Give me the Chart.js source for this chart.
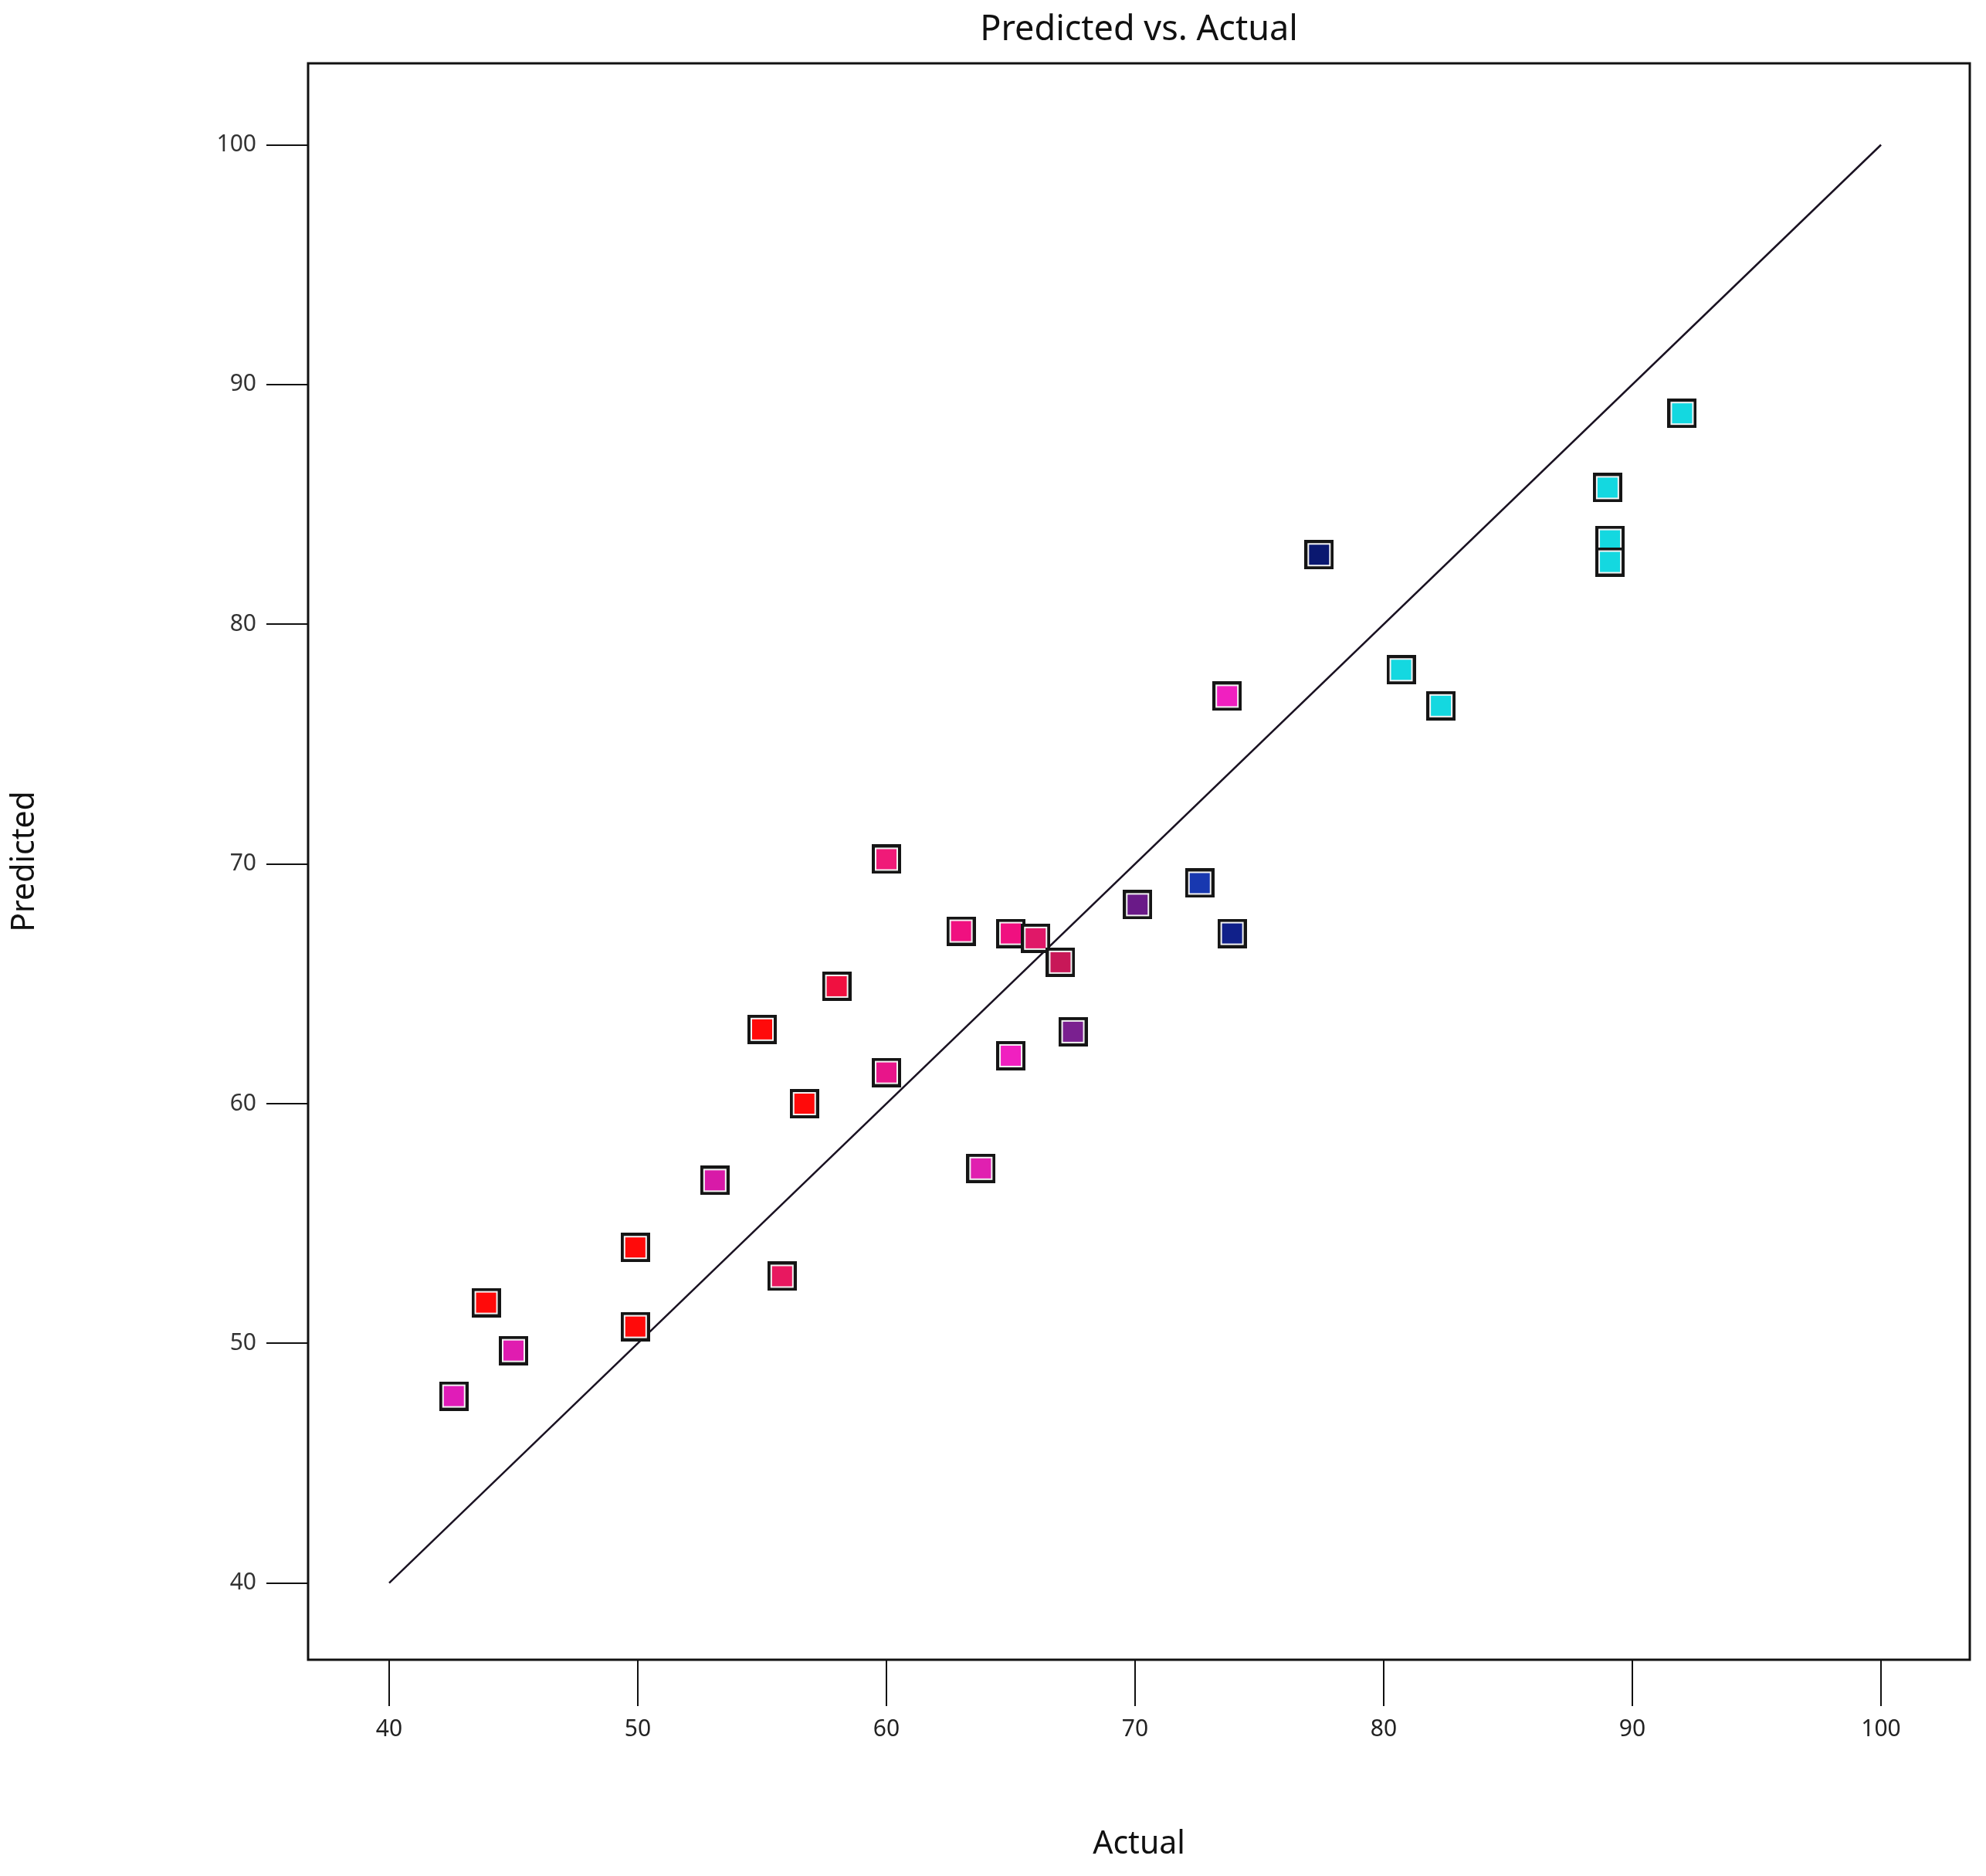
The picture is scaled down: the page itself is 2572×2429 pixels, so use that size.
<!DOCTYPE html>
<html>
<head>
<meta charset="utf-8">
<script src="https://cdn.jsdelivr.net/npm/chart.js@4.4.1/dist/chart.umd.min.js"></script>
<style>
  html, body { margin: 0; padding: 0; background: #fff; }
  #wrap { width: 2572px; height: 2429px; position: relative; }
</style>
</head>
<body>
<div id="wrap"><canvas id="chart"></canvas></div>
<script>
// actual vs predicted values
const actualValues = [42.6, 43.9, 45.0, 49.9, 49.9, 53.1, 55.0, 55.8, 56.7, 58.0,
  60.0, 60.0, 63.0, 63.8, 65.0, 65.0, 66.0, 67.0, 67.5, 70.1,
  72.6, 73.9, 73.7, 77.4, 80.7, 82.3, 89.0, 89.1, 89.1, 92.0];
const predictedValues = [47.8, 51.7, 49.7, 54.0, 50.7, 56.8, 63.1, 52.8, 60.0, 64.9,
  70.2, 61.3, 67.2, 57.3, 67.1, 62.0, 66.9, 65.9, 63.0, 68.3,
  69.2, 67.1, 77.0, 82.9, 78.1, 76.6, 85.7, 83.5, 82.6, 88.8];
const pointColors = ["#e01cb8", "#ff0a0a", "#e01cb0", "#ff0a0a", "#ff0a0a", "#d81aa8", "#ff0a0a", "#e81860", "#ff0a0a", "#f01040",
  "#f01a78", "#e8158a", "#f01080", "#e020b0", "#f01080", "#f020c0", "#e01868", "#c81858", "#7a2090", "#6a1a88",
  "#1838b0", "#10208a", "#f020c0", "#0a1870", "#14d8e0", "#14d8e0", "#14d8e0", "#14d8e0", "#14d8e0", "#14d8e0"];
const diagonalX = [40, 100];
const diagonalY = [40, 100];
const xTickValues = [40, 50, 60, 70, 80, 90, 100];
const yTickValues = [40, 50, 60, 70, 80, 90, 100];

const points = actualValues.map((x, i) => ({ x: x, y: predictedValues[i] }));
const diagonal = diagonalX.map((x, i) => ({ x: x, y: diagonalY[i] }));

// square marker: black edge, thin light ring, coloured fill
function marker(color) {
  const size = 38;
  const c = document.createElement("canvas");
  c.width = size; c.height = size;
  const g = c.getContext("2d");
  g.fillStyle = "#151515";
  g.fillRect(0, 0, size, size);
  g.fillStyle = "#f4f4f4";
  g.fillRect(4, 4, size - 8, size - 8);
  g.fillStyle = color;
  g.fillRect(6, 6, size - 12, size - 12);
  return c;
}
const markers = pointColors.map(marker);

const frame = {
  id: "frame",
  afterDatasetsDraw(chart) {
    const { ctx, chartArea: a } = chart;
    ctx.save();
    ctx.strokeStyle = "#111";
    ctx.lineWidth = 3;
    ctx.strokeRect(a.left, a.top, a.right - a.left, a.bottom - a.top);
    ctx.restore();
  }
};

const font = "'Noto Sans', 'DejaVu Sans', sans-serif";

new Chart(document.getElementById("chart"), {
  type: "scatter",
  data: {
    datasets: [
      {
        data: points,
        pointStyle: markers,
        pointRadius: 19,
        pointHoverRadius: 19,
        backgroundColor: pointColors,
        order: 0
      },
      {
        type: "line",
        data: diagonal,
        borderColor: "#1a1222",
        borderWidth: 2.5,
        pointRadius: 0,
        fill: false,
        order: 1
      }
    ]
  },
  options: {
    responsive: true,
    maintainAspectRatio: false,
    animation: false,
    layout: { padding: { left: 0, right: 21, top: 0, bottom: 0 } },
    plugins: {
      legend: { display: false },
      tooltip: { enabled: false },
      title: {
        display: true,
        fullSize: false,
        text: "Predicted vs. Actual",
        color: "#111",
        font: { family: font, size: 45, weight: "normal" },
        padding: { top: 12, bottom: 16 }
      }
    },
    scales: {
      x: {
        type: "linear",
        min: 36.74,
        max: 103.57,
        afterFit: s => { s.height = 280; s.paddingLeft = 0; s.paddingRight = 0; },
        afterBuildTicks: s => { s.ticks = xTickValues.map(v => ({ value: v })); },
        border: { display: false },
        grid: { drawOnChartArea: false, drawTicks: true, tickLength: 60, color: "#111", lineWidth: 2 },
        ticks: { color: "#222", padding: 12, font: { family: font, size: 30 } },
        title: {
          display: true,
          text: "Actual",
          color: "#111",
          font: { family: font, size: 41 },
          padding: { top: 0, bottom: 16 }
        }
      },
      y: {
        type: "linear",
        min: 36.8,
        max: 103.4,
        afterFit: s => { s.width = 399; },
        afterBuildTicks: s => { s.ticks = yTickValues.map(v => ({ value: v })); },
        border: { display: false },
        grid: { drawOnChartArea: false, drawTicks: true, tickLength: 54, color: "#111", lineWidth: 2 },
        ticks: { color: "#333", padding: 13, font: { family: font, size: 30 } },
        title: {
          display: true,
          text: "Predicted",
          color: "#111",
          font: { family: font, size: 41 },
          padding: { top: 8, bottom: 0 }
        }
      }
    }
  },
  plugins: [frame]
});
</script>
</body>
</html>
